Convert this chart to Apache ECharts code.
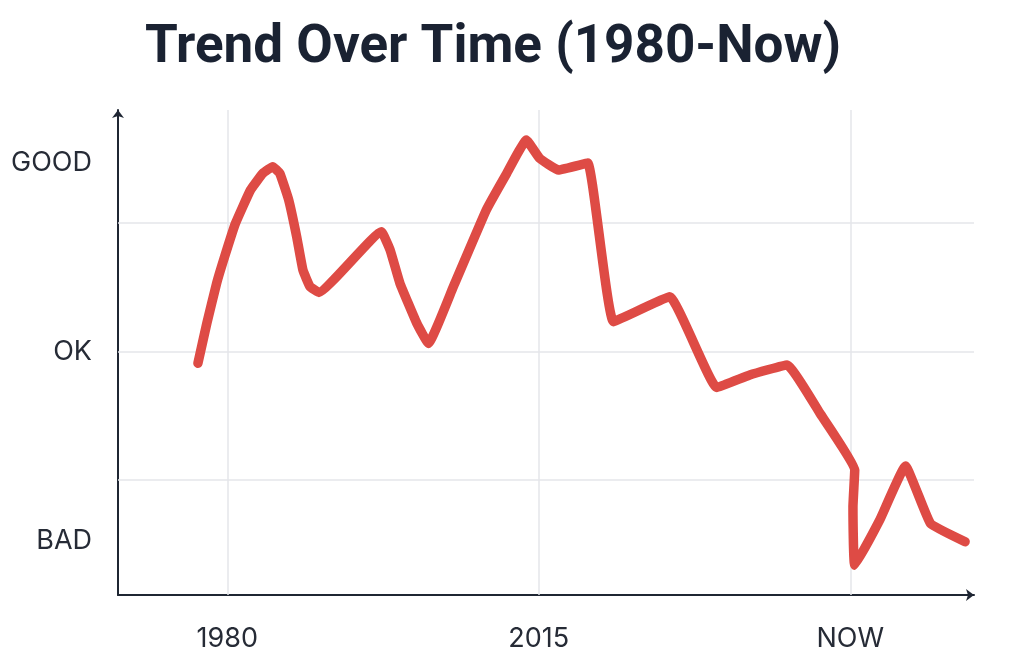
<!DOCTYPE html>
<html>
<head>
<meta charset="utf-8">
<title>Trend Over Time</title>
<script src="https://cdn.jsdelivr.net/npm/echarts@6/dist/echarts.min.js"></script>
<style>
  html, body { margin: 0; padding: 0; background: #fff; }
  #chart { width: 1024px; height: 660px; }
</style>
</head>
<body>
<div id="chart"></div>
<script>
// x in years ("NOW" sits at 2050), y is a score: GOOD = 1, OK = 0, BAD = -1
const years = [1976.7, 1977.7, 1978.8, 1979.7, 1980.9, 1982.6, 1984.0, 1985.1, 1985.9, 1986.9,
  1987.8, 1988.5, 1989.3, 1990.3, 1997.3, 1998.3, 1999.4, 2001.3, 2002.6, 2005.4,
  2009.1, 2011.4, 2013.6, 2015.1, 2017.2, 2020.5, 2023.4, 2029.7,
  2035.0, 2038.7, 2042.9, 2046.6, 2050.5, 2050.3, 2050.5, 2053.3, 2056.2, 2059.0, 2062.9];
const scores = [-0.062, 0.149, 0.361, 0.502, 0.676, 0.854, 0.943, 0.978, 0.943, 0.802,
  0.607, 0.431, 0.343, 0.313, 0.634, 0.537, 0.361, 0.149, 0.043, 0.343,
  0.749, 0.943, 1.119, 1.022, 0.960, 0.997, 0.158, 0.290,
  -0.190, -0.124, -0.071, -0.327, -0.627, -0.821, -1.130, -0.892, -0.606, -0.909, -1.006];

const xTicks = [1980, 2015, 2050];
const xTickLabels = ['1980', '2015', 'NOW'];
const yTicks = [1, 0, -1];
const yTickLabels = ['GOOD', 'OK', 'BAD'];
const yGrid = [0.677, 0, -0.677];

const chart = echarts.init(document.getElementById('chart'));

const points = years.map((x, i) => [x, scores[i]]);
const gridLines = xTicks.map(v => ({ xAxis: v })).concat(yGrid.map(v => ({ yAxis: v })));

const axisColor = '#1f2633';
const labelFont = {
  fontFamily: 'Inter',
  fontSize: 27,
  color: '#262b36'
};

chart.setOption({
  animation: false,
  backgroundColor: '#ffffff',
  title: {
    text: 'Trend Over Time (1980-Now)',
    left: 140,
    top: 17,
    textStyle: {
      fontFamily: 'Roboto',
      fontWeight: 'bold',
      fontSize: 53,
      color: '#1a2232'
    }
  },
  grid: { left: 118, right: 50, top: 110, bottom: 65 },
  xAxis: {
    type: 'value',
    min: 1967.72,
    max: 2063.9,
    axisLine: {
      show: true,
      onZero: false,
      symbol: ['none', 'arrow'],
      symbolSize: [9, 8],
      lineStyle: { color: axisColor, width: 2 }
    },
    axisTick: { show: false },
    splitLine: { show: false },
    axisLabel: Object.assign({
      customValues: xTicks,
      margin: 30,
      formatter: v => xTickLabels[xTicks.indexOf(v)] || ''
    }, labelFont)
  },
  yAxis: {
    type: 'value',
    min: -1.288,
    max: 1.278,
    axisLine: {
      show: true,
      onZero: false,
      symbol: ['none', 'arrow'],
      symbolSize: [9, 8],
      lineStyle: { color: axisColor, width: 2 }
    },
    axisTick: { show: false },
    splitLine: { show: false },
    axisLabel: Object.assign({
      customValues: yTicks,
      margin: 26,
      formatter: v => yTickLabels[yTicks.indexOf(v)] || ''
    }, labelFont)
  },
  series: [{
    type: 'line',
    data: points,
    showSymbol: false,
    smooth: 0.1,
    lineStyle: {
      color: '#de4b45',
      width: 9.5,
      cap: 'round',
      join: 'round'
    },
    markLine: {
      silent: true,
      z: 1,
      symbol: ['none', 'none'],
      label: { show: false },
      lineStyle: { color: '#e4e6ea', width: 1.5, type: 'solid' },
      data: gridLines
    }
  }]
});
</script>
</body>
</html>
